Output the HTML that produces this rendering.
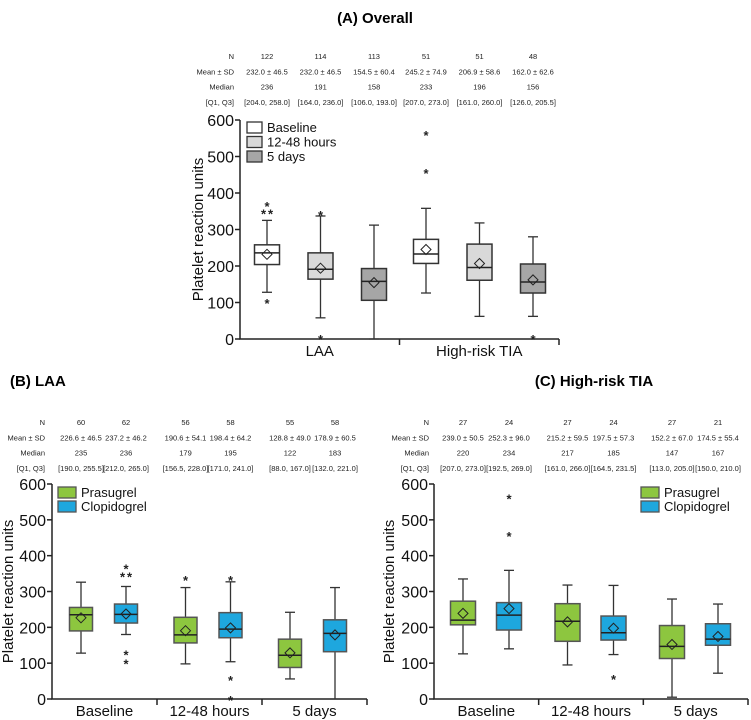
<!DOCTYPE html>
<html><head><meta charset="utf-8"><style>
body{margin:0;background:#fff;}
svg{display:block;font-family:"Liberation Sans",Arial,sans-serif;}
</style></head><body>
<svg id="fig" width="751" height="720" viewBox="0 0 751 720">
<text x="375" y="23" text-anchor="middle" font-size="15" font-weight="bold">(A) Overall</text>
<text x="10" y="386" font-size="15" font-weight="bold">(B) LAA</text>
<text x="594" y="386" text-anchor="middle" font-size="15" font-weight="bold">(C) High-risk TIA</text>
</svg>
<script>
// ---- Panel A data ----
const aN=["122","114","113","51","51","48"];
const aMean=["232.0 ± 46.5","232.0 ± 46.5","154.5 ± 60.4","245.2 ± 74.9","206.9 ± 58.6","162.0 ± 62.6"];
const aMedianTxt=["236","191","158","233","196","156"];
const aQTxt=["[204.0, 258.0]","[164.0, 236.0]","[106.0, 193.0]","[207.0, 273.0]","[161.0, 260.0]","[126.0, 205.5]"];
const aWlo=[128,58,0,126,62,62];
const aQ1=[204,164,106,207,161,126];
const aMed=[236,191,158,233,196,156];
const aQ3=[258,236,193,273,260,205.5];
const aWhi=[325,337,312,358,318,280];
const aMeanV=[232,194,154.5,245.2,206.9,162];
const aOut=[[370,350,350,104],[345,5],[],[565,460],[],[5]];
const aCats=["LAA","High-risk TIA"];
const aSeries=["Baseline","12-48 hours","5 days"];
// ---- Panel B data ----
const bN=["60","62","56","58","55","58"];
const bMean=["226.6 ± 46.5","237.2 ± 46.2","190.6 ± 54.1","198.4 ± 64.2","128.8 ± 49.0","178.9 ± 60.5"];
const bMedianTxt=["235","236","179","195","122","183"];
const bQTxt=["[190.0, 255.5]","[212.0, 265.0]","[156.5, 228.0]","[171.0, 241.0]","[88.0, 167.0]","[132.0, 221.0]"];
const bWlo=[128,180,98,104,56,0];
const bQ1=[190,212,156.5,171,88,132];
const bMed=[235,236,179,195,122,183];
const bQ3=[255.5,265,228,241,167,221];
const bWhi=[326,314,311,327,242,311];
const bMeanV=[226.6,237.2,190.6,198.4,128.8,178.9];
const bOut=[[],[370,348,348,130,104],[337],[337,58,3],[],[]];
// ---- Panel C data ----
const cN=["27","24","27","24","27","21"];
const cMean=["239.0 ± 50.5","252.3 ± 96.0","215.2 ± 59.5","197.5 ± 57.3","152.2 ± 67.0","174.5 ± 55.4"];
const cMedianTxt=["220","234","217","185","147","167"];
const cQTxt=["[207.0, 273.0]","[192.5, 269.0]","[161.0, 266.0]","[164.5, 231.5]","[113.0, 205.0]","[150.0, 210.0]"];
const cWlo=[126,140,95,124,5,72];
const cQ1=[207,192.5,161,164.5,113,150];
const cMed=[220,234,217,185,147,167];
const cQ3=[273,269,266,231.5,205,210];
const cWhi=[335,359,318,317,279,265];
const cMeanV=[239,252.3,215.2,197.5,152.2,174.5];
const cOut=[[],[565,460],[],[62],[],[]];
const bcCats=["Baseline","12-48 hours","5 days"];
const bcSeries=["Prasugrel","Clopidogrel"];
const yTicks=[0,100,200,300,400,500,600];

const NS="http://www.w3.org/2000/svg";
const svg=document.getElementById('fig');
function mk(tag,attrs,parent,txt){const e=document.createElementNS(NS,tag);for(const k in attrs)e.setAttribute(k,attrs[k]);if(txt!==undefined)e.textContent=txt;(parent||svg).appendChild(e);return e;}

function panel(o){
  const g=mk('g',{});
  
  
  const y=v=>o.y0-(v/600)*(o.y0-o.y600);
  const xc=i=>o.x0+o.off+ (Math.floor(i/o.per))*o.grp + (i%o.per)*o.step;
  const rows=[["N",o.N],["Mean ± SD",o.Mean],["Median",o.MedT],["[Q1, Q3]",o.QT]];
  rows.forEach((r,ri)=>{
    const ty=o.statY+ri*15.3;
    const l=mk('text',{x:o.lblX,y:ty,'text-anchor':'end','font-size':7.5,fill:'#222'},g,r[0]);
    
    
    r[1].forEach((t,i)=>{const e=mk('text',{x:xc(i),y:ty,'text-anchor':'middle','font-size':7.5,fill:'#222'},g,t);
      
      });
  });
  const ax=mk('path',{d:`M${o.x0},${o.y600}V${o.y0}H${o.xEnd}`,stroke:'#222','stroke-width':1.5,fill:'none'},g);
  
  
  yTicks.forEach(t=>{mk('line',{x1:o.x0-5,x2:o.x0,y1:y(t),y2:y(t),stroke:'#222','stroke-width':1.5},g);
    const e=mk('text',{x:o.x0-6,y:y(t)+6,'text-anchor':'end','font-size':o.tfs,fill:'#111'},g,String(t));
    
    });
  const nc=o.cats.length, cw=(o.xEnd-o.x0)/nc;
  o.cats.forEach((c,i)=>{ if(i>0) mk('line',{x1:o.x0+cw*i,x2:o.x0+cw*i,y1:o.y0,y2:o.y0+6,stroke:'#222','stroke-width':1.5},g);
    const e=mk('text',{x:o.x0+cw*(i+0.5),y:o.y0+17,'text-anchor':'middle','font-size':o.cfs,fill:'#111'},g,c);
    
    });
  mk('line',{x1:o.xEnd,x2:o.xEnd,y1:o.y0,y2:o.y0+6,stroke:'#222','stroke-width':1.5},g);
  const yt=mk('text',{transform:`translate(${o.ytX},${(o.y0+o.y600)/2}) rotate(-90)`,'text-anchor':'middle','font-size':15,fill:'#111'},g,'Platelet reaction units');
  
  
  o.Q1.forEach((q,i)=>{
    const cx=xc(i),w=o.bw,col=o.colors[i%o.per],sc=o.stroke[i%o.per];
    const bg=mk('g',{},g);
    
    
    mk('line',{x1:cx,x2:cx,y1:y(o.Wlo[i]),y2:y(q),stroke:'#333','stroke-width':1.3},bg);
    mk('line',{x1:cx,x2:cx,y1:y(o.Q3[i]),y2:y(o.Whi[i]),stroke:'#333','stroke-width':1.3},bg);
    mk('line',{x1:cx-5,x2:cx+5,y1:y(o.Wlo[i]),y2:y(o.Wlo[i]),stroke:'#333','stroke-width':1.3},bg);
    mk('line',{x1:cx-5,x2:cx+5,y1:y(o.Whi[i]),y2:y(o.Whi[i]),stroke:'#333','stroke-width':1.3},bg);
    mk('rect',{x:cx-w/2,y:y(o.Q3[i]),width:w,height:y(q)-y(o.Q3[i]),fill:col,stroke:sc,'stroke-width':1.5},bg);
    mk('line',{x1:cx-w/2,x2:cx+w/2,y1:y(o.Med[i]),y2:y(o.Med[i]),stroke:'#222','stroke-width':1.5},bg);
    const my=y(o.MeanV[i]);
    mk('path',{d:`M${cx},${my-5}L${cx+5},${my}L${cx},${my+5}L${cx-5},${my}Z`,fill:'none',stroke:'#222','stroke-width':1},bg);
    const seen={};
    o.Out[i].forEach(v=>{seen[v]=(seen[v]||0)+1;const n=seen[v];
      let dx=0; if(o.Out[i].filter(z=>z===v).length===2) dx=(n===1?-3.5:3.5);
      mk('text',{x:cx+dx,y:y(v)+7,'text-anchor':'middle','font-size':13,'font-weight':'bold',fill:'#222'},bg,'*');});
  });
  o.series.forEach((s,i)=>{const ly=o.legY+i*o.legStep;
    mk('rect',{x:o.legX,y:ly,width:o.legW,height:o.legH,fill:o.colors[i],stroke:o.stroke[i],'stroke-width':1.3},g);
    const e=mk('text',{x:o.legX+o.legW+5,y:ly+o.legH-1,'font-size':13,fill:'#111'},g,s);
    
    });
}
panel({name:'overall-panel',N:aN,Mean:aMean,MedT:aMedianTxt,QT:aQTxt,Wlo:aWlo,Q1:aQ1,Med:aMed,Q3:aQ3,Whi:aWhi,MeanV:aMeanV,Out:aOut,
  cats:aCats,series:aSeries,x0:240,xEnd:559,y0:339,y600:120,off:27,per:3,grp:159,step:53.5,bw:25,
  colors:['#fff','#d9d9d9','#a6a6a6'],stroke:['#333','#333','#333'],statY:59,lblX:234,tfs:16,cfs:15,ytX:203,
  legX:247,legY:122,legStep:14.5,legW:15,legH:11});
panel({name:'laa-panel',N:bN,Mean:bMean,MedT:bMedianTxt,QT:bQTxt,Wlo:bWlo,Q1:bQ1,Med:bMed,Q3:bQ3,Whi:bWhi,MeanV:bMeanV,Out:bOut,
  cats:bcCats,series:bcSeries,x0:52,xEnd:367,y0:699,y600:484,off:29,per:2,grp:104.5,step:45,bw:23,
  colors:['#8dc63f','#1ea7de'],stroke:['#555','#555'],statY:425,lblX:45,tfs:16,cfs:15,ytX:13,
  legX:58,legY:487,legStep:14,legW:18,legH:11});
panel({name:'high-risk-tia-panel',N:cN,Mean:cMean,MedT:cMedianTxt,QT:cQTxt,Wlo:cWlo,Q1:cQ1,Med:cMed,Q3:cQ3,Whi:cWhi,MeanV:cMeanV,Out:cOut,
  cats:bcCats,series:bcSeries,x0:434,xEnd:748,y0:699,y600:484,off:29,per:2,grp:104.5,step:46,bw:25,
  colors:['#8dc63f','#1ea7de'],stroke:['#555','#555'],statY:425,lblX:429,tfs:16,cfs:15,ytX:394,
  legX:641,legY:487,legStep:14,legW:18,legH:11});
</script>
</body></html>
